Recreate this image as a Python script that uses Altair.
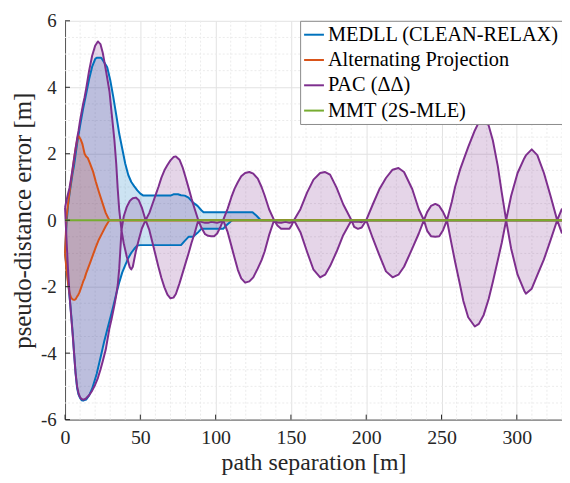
import altair as alt
import pandas as pd

SERIES = ["MEDLL (CLEAN-RELAX)", "Alternating Projection", "PAC (ΔΔ)", "MMT (2S-MLE)"]
COLORS = ["#0072BD", "#D95319", "#7E2F8E", "#77AC30"]

# MEDLL (CLEAN-RELAX) envelope
medll_x = [0, 1, 2, 3, 4, 5, 6, 7, 8, 9, 10, 11, 12, 14, 16, 18, 20, 21, 24, 25, 26, 27, 28, 30, 32, 34, 36, 38,
           40, 42, 44, 46, 48, 50, 52, 70, 72, 75, 77, 79.5, 82, 85, 88, 90.5, 92, 105, 107, 110.5, 111.5,
           124.5, 127, 130, 330]
medll_up = [-1.0, -0.1, 0.45, 0.8, 1.1, 1.4, 1.65, 1.98, 2.3, 2.58, 2.85, 3.1, 3.35, 3.8, 4.25, 4.62, 4.85, 4.89,
            4.89, 4.82, 4.75, 4.68, 4.6, 4.22, 3.72, 3.17, 2.6, 2.15, 1.7, 1.36, 1.15, 1.02, 0.9, 0.8, 0.74,
            0.74, 0.78, 0.78, 0.75, 0.74, 0.68, 0.53, 0.43, 0.3, 0.24, 0.24, 0.24, 0.24, 0.24, 0.24, 0.14, 0.0, 0.0]
medll_lo = [-1.0, -1.4, -1.85, -2.3, -2.8, -3.35, -4.0, -4.6, -5.05, -5.25, -5.35, -5.42, -5.43, -5.4, -5.27,
            -5.07, -4.78, -4.63, -4.05, -3.85, -3.65, -3.48, -3.3, -2.95, -2.6, -2.22, -1.87, -1.57, -1.35,
            -1.14, -0.98, -0.86, -0.76, -0.75, -0.75, -0.75, -0.75, -0.75, -0.75, -0.62, -0.5, -0.5, -0.38,
            -0.26, -0.26, -0.26, -0.16, -0.02, 0.0, 0.0, 0.0, 0.0, 0.0]

# Alternating Projection envelope
ap_x = [0, 1, 2, 3, 4, 5, 6, 7, 8, 8.7, 9.5, 10.5, 11.5, 12, 13, 14, 15, 16.5, 18.5, 20.5, 22.5, 25, 27,
        28.5, 29.5, 330]
ap_up = [-1.0, 0.1, 0.5, 0.85, 1.2, 1.5, 1.85, 2.15, 2.4, 2.55, 2.5, 2.42, 2.3, 2.2, 2.0, 1.92, 1.88, 1.72,
         1.48, 1.15, 0.85, 0.5, 0.22, 0.08, 0.0, 0.0]
ap_lo = [-1.0, -1.5, -1.9, -2.2, -2.33, -2.38, -2.4, -2.38, -2.3, -2.25, -2.18, -2.05, -1.92, -1.85, -1.75,
         -1.6, -1.48, -1.3, -1.05, -0.8, -0.58, -0.36, -0.18, -0.07, 0.0, 0.0]

# PAC (ΔΔ) envelope
pac_x = [0, 1, 2, 3, 4, 5, 6, 7, 8, 9, 10, 11, 12, 13, 14, 16, 18, 20, 21.8, 23.5, 25, 27, 29.5, 31, 32.8,
         34, 35, 36, 37.5, 39, 41, 43, 44, 45, 47, 49, 51, 53.5, 56, 58, 60, 62, 64, 66, 68, 70, 72, 73.6,
         76, 78, 80, 82, 84, 86, 88.5, 90.5, 93, 95, 97, 99, 101, 103, 105, 108, 110.5, 112.6, 114.8, 117,
         119.6, 122.4, 125, 128, 130.5, 132.5, 135.5, 138.8, 141, 143.5, 146.4, 149, 150.5, 152, 156.3,
         160.7, 165, 169.4, 172.7, 176, 180.3, 184.7, 190.2, 192, 194.5, 197, 200, 204.4, 208.7, 213.1,
         217.5, 221.4, 225.1, 230.6, 234.9, 238.3, 240.5, 243, 245.9, 248.5, 251, 253.6, 256.8, 259,
         262.3, 264.5, 267.7, 272.1, 274.8, 278, 281.3, 284.1, 287.4, 290, 292.9, 296.2, 300.5, 304.9,
         306, 309.9, 313.6, 318, 322.4, 326.8, 330]
pac_up = [0.38, 0.6, 0.8, 0.98, 1.25, 1.55, 1.85, 2.15, 2.45, 2.7, 3.0, 3.25, 3.5, 3.7, 3.95, 4.5, 4.95,
          5.25, 5.38, 5.3, 5.05, 4.55, 3.88, 3.2, 2.4, 1.7, 0.93, 0.3, -0.3, 0.12, 0.4, 0.58, 0.62, 0.66,
          0.68, 0.6, 0.38, 0.0, 0.22, 0.48, 0.74, 1.0, 1.28, 1.5, 1.66, 1.8, 1.9, 1.92, 1.82, 1.6, 1.3,
          0.98, 0.65, 0.35, 0.0, -0.05, -0.08, -0.08, -0.05, -0.06, -0.08, -0.05, 0.0, 0.35, 0.7, 0.95,
          1.15, 1.32, 1.42, 1.45, 1.4, 1.25, 1.0, 0.75, 0.33, 0.0, -0.07, -0.08, -0.05, -0.08, -0.06, 0.0,
          0.33, 0.83, 1.22, 1.42, 1.45, 1.37, 0.98, 0.48, 0.0, -0.05, -0.04, -0.06, 0.0, 0.48, 0.93, 1.27,
          1.52, 1.57, 1.45, 0.93, 0.33, 0.0, 0.25, 0.43, 0.49, 0.43, 0.25, 0.0, 0.55, 1.0, 1.52, 1.8, 2.2,
          2.7, 2.95, 3.05, 2.85, 2.4, 1.62, 0.83, 0.0, 0.73, 1.42, 1.86, 1.95, 2.13, 1.96, 1.42, 0.73, 0.0,
          0.35]
pac_lo = [0.38, -0.6, -1.5, -2.25, -2.85, -3.4, -4.0, -4.6, -5.0, -5.22, -5.33, -5.38, -5.4, -5.39, -5.36,
          -5.27, -5.13, -4.95, -4.75, -4.5, -4.25, -3.9, -3.25, -2.95, -2.55, -2.25, -1.95, -1.45, -0.3,
          -0.7, -1.1, -1.42, -1.48, -1.4, -0.94, -0.58, -0.25, 0.0, -0.3, -0.66, -1.03, -1.4, -1.74, -2.02,
          -2.24, -2.35, -2.33, -2.22, -1.9, -1.6, -1.3, -1.0, -0.68, -0.4, 0.0, -0.22, -0.42, -0.47, -0.48,
          -0.48, -0.4, -0.22, 0.0, -0.36, -0.78, -1.14, -1.5, -1.75, -1.88, -1.84, -1.72, -1.45, -1.2,
          -0.95, -0.45, 0.0, -0.16, -0.26, -0.26, -0.26, -0.15, 0.0, -0.36, -0.95, -1.49, -1.72, -1.64,
          -1.38, -0.95, -0.45, 0.0, -0.2, -0.26, -0.22, 0.0, -0.55, -1.05, -1.54, -1.72, -1.64, -1.4, -0.85,
          -0.4, 0.0, -0.32, -0.48, -0.5, -0.48, -0.3, 0.0, -0.75, -1.25, -1.95, -2.43, -2.92, -3.2, -3.12,
          -2.85, -2.37, -1.85, -1.2, -0.68, 0.0, -0.85, -1.64, -2.12, -2.21, -2.06, -1.65, -1.18, -0.6, 0.0,
          -0.4]

# MMT (2S-MLE)
mmt_x = [0, 330]
mmt_y = [0.0, 0.0]

x_ticks = [0, 50, 100, 150, 200, 250, 300]
y_ticks = [-6, -4, -2, 0, 2, 4, 6]
x_minor = [v for v in range(10, 331, 10) if v % 50 != 0]
y_minor = [v / 2 for v in range(-11, 12) if v % 4 != 0]

FONT = "Liberation Serif, Times New Roman, serif"
TXT = "#262626"

x_scale = alt.Scale(domain=[0, 330], nice=False, zero=False)
y_scale = alt.Scale(domain=[-6, 6], nice=False, zero=False)

x_axis = alt.Axis(values=x_ticks, title="path separation [m]", grid=True, gridColor="#e2e2e2",
                  ticks=False, domainColor="#555555", labelFont=FONT, labelFontSize=20, labelColor=TXT,
                  labelPadding=8, labelFlush=False, titleFont=FONT, titleFontSize=24,
                  titleFontWeight="normal", titleColor=TXT, titlePadding=3)
y_axis = alt.Axis(values=y_ticks, title="pseudo-distance error [m]", grid=True, gridColor="#e2e2e2",
                  ticks=False, domainColor="#555555", labelFont=FONT, labelFontSize=19, labelColor=TXT,
                  labelPadding=9, labelFlush=False, labelExpr="'' + datum.value", titleFont=FONT,
                  titleFontSize=25, titleFontWeight="normal", titleColor=TXT, titlePadding=5)


def X(f):
    return alt.X(f, type="quantitative", scale=x_scale, axis=x_axis)


def Y(f):
    return alt.Y(f, type="quantitative", scale=y_scale, axis=y_axis)


color_enc = alt.Color(
    "series:N",
    scale=alt.Scale(domain=SERIES, range=COLORS),
    legend=alt.Legend(title=None, orient="none", legendX=237, legendY=0, symbolType="stroke",
                      symbolSize=400, symbolStrokeWidth=2, labelFont=FONT, labelFontSize=20.5,
                      labelColor="#000000", labelOffset=3, rowPadding=3.5, padding=3,
                      strokeColor="#8a8a8a", fillColor="#ffffff", labelLimit=400),
)


def env_df(xs, up, lo):
    return pd.DataFrame({"x": xs, "up": up, "lo": lo})


def line_df(xs, up, lo, name):
    a = pd.DataFrame({"x": xs, "y": up, "part": "up", "series": name})
    b = pd.DataFrame({"x": xs, "y": lo, "part": "lo", "series": name})
    return pd.concat([a, b], ignore_index=True)


minor_x = alt.Chart(pd.DataFrame({"x": x_minor})).mark_rule(
    color="#ebebeb", strokeDash=[2, 2], strokeWidth=1).encode(x=X("x"))
minor_y = alt.Chart(pd.DataFrame({"y": y_minor})).mark_rule(
    color="#ebebeb", strokeDash=[2, 2], strokeWidth=1).encode(y=Y("y"))

area_medll = alt.Chart(env_df(medll_x, medll_up, medll_lo)).mark_area(
    color=COLORS[0], opacity=0.2).encode(x=X("x"), y=Y("up"), y2="lo")
area_ap = alt.Chart(env_df(ap_x, ap_up, ap_lo)).mark_area(
    color=COLORS[1], opacity=0.2).encode(x=X("x"), y=Y("up"), y2="lo")
area_pac = alt.Chart(env_df(pac_x, pac_up, pac_lo)).mark_area(
    color=COLORS[2], opacity=0.2).encode(x=X("x"), y=Y("up"), y2="lo")


def lines(df):
    return alt.Chart(df).mark_line(strokeWidth=2, strokeJoin="round").encode(
        x=X("x"), y=Y("y"), detail="part:N", color=color_enc)


line_medll = lines(line_df(medll_x, medll_up, medll_lo, SERIES[0]))
line_ap = lines(line_df(ap_x, ap_up, ap_lo, SERIES[1]))
line_pac = lines(line_df(pac_x, pac_up, pac_lo, SERIES[2]))
line_mmt = lines(pd.DataFrame({"x": mmt_x, "y": mmt_y, "part": "c", "series": SERIES[3]}))

tick_x = alt.Chart(pd.DataFrame({"x": x_ticks})).mark_rule(color=TXT, strokeWidth=1).encode(
    x=X("x"), y=alt.value(402), y2=alt.value(397))
tick_y = alt.Chart(pd.DataFrame({"y": y_ticks})).mark_rule(color=TXT, strokeWidth=1).encode(
    y=Y("y"), x=alt.value(0), x2=alt.value(5))

chart = alt.layer(
    minor_x, minor_y, area_medll, area_ap, area_pac,
    line_medll, line_ap, line_pac, line_mmt, tick_x, tick_y,
).properties(
    width=501, height=402,
    autosize=alt.AutoSizeParams(type="none"),
    padding={"left": 57.5, "top": 11, "right": 0, "bottom": 62},
).configure_view(stroke=None)

chart.save("out.html", embed_options={"renderer": "svg", "actions": False})
